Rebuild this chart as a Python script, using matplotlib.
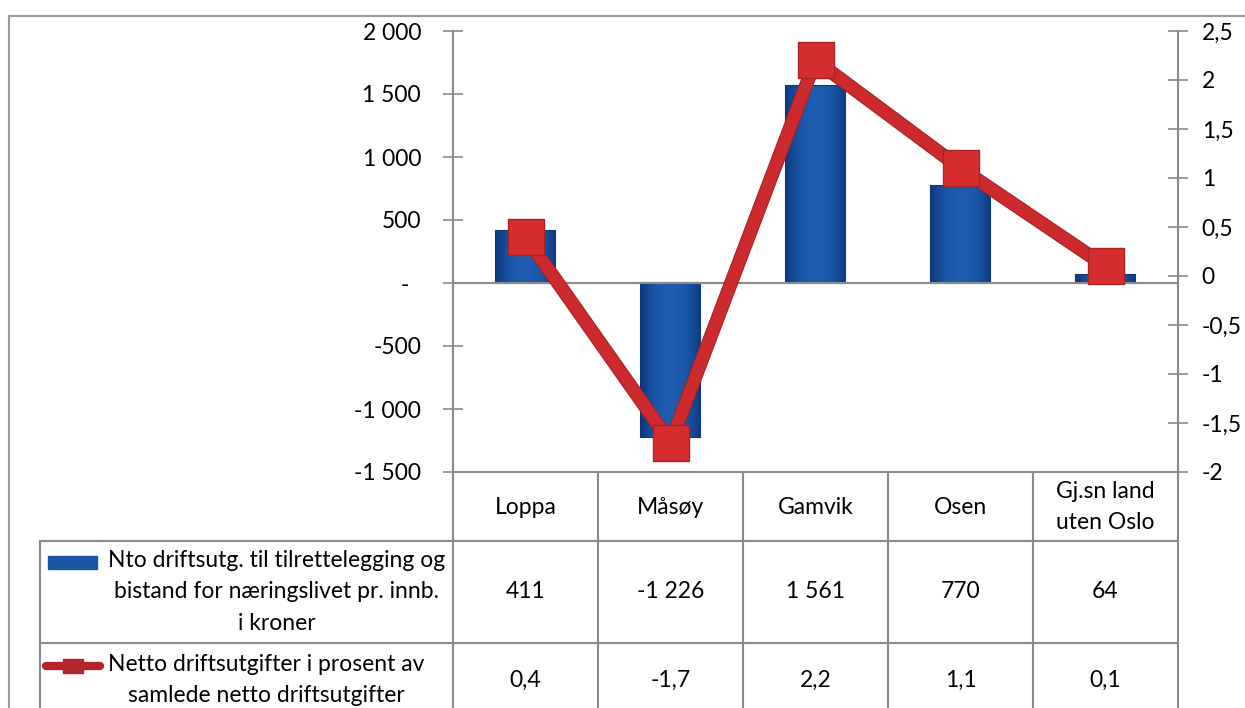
import numpy as np
import matplotlib
matplotlib.use("Agg")
import matplotlib.pyplot as plt
import matplotlib.transforms as mtrans
from matplotlib import patheffects as pe

plt.rcParams['font.family'] = ['Lato', 'DejaVu Sans']

categories = ["Loppa", "Måsøy", "Gamvik", "Osen", "Gj.sn land\nuten Oslo"]
nto_kroner = [411, -1226, 1561, 770, 64]
netto_prosent = [0.4, -1.7, 2.2, 1.1, 0.1]
left_ticks = [-1500, -1000, -500, 0, 500, 1000, 1500, 2000]
right_ticks = [-2, -1.5, -1, -0.5, 0, 0.5, 1, 1.5, 2, 2.5]
series1_label = "Nto driftsutg. til tilrettelegging og\nbistand for næringslivet pr. innb.\ni kroner"
series2_label = "Netto driftsutgifter i prosent av\nsamlede netto driftsutgifter"

W, H = 1245, 708
fig = plt.figure(figsize=(W / 100, H / 100), dpi=100)
fig.patch.set_facecolor("white")

def fx(px):
    return px / W

def fy(py):
    return 1 - py / H

ax_l, ax_r, ax_t, ax_b = 453, 1178, 31, 472
ax = fig.add_axes([fx(ax_l), fy(ax_b), fx(ax_r - ax_l), (ax_b - ax_t) / H])
ax2 = ax.twinx()

FS = 16.5
GRID = "#8a8a8a"
x = np.arange(len(categories))

# bars with gradient
bars = ax.bar(x, nto_kroner, width=0.41, color="#1b55a8", edgecolor="#0c3470",
              linewidth=1.5, zorder=2)
cmap = matplotlib.colors.LinearSegmentedColormap.from_list(
    "bevel", ["#0e3b82", "#1b56a9", "#205db0", "#1b56a9", "#0e3b82"])
grad = np.linspace(0, 1, 64).reshape(1, -1)
for b in bars:
    x0, y0 = b.get_x(), b.get_y()
    w, h = b.get_width(), b.get_height()
    im = ax.imshow(grad, extent=[x0, x0 + w, min(y0, y0 + h), max(y0, y0 + h)],
                   aspect="auto", cmap=cmap, zorder=2.5, interpolation="bicubic")
    im.set_clip_path(b)

ax.set_xlim(-0.5, len(categories) - 0.5)
ax.set_ylim(-1500, 2000)
ax.axhline(0, color=GRID, lw=1.5, zorder=3)

def kr_fmt(v):
    if v == 0:
        return "-"
    s = f"{abs(int(v)):,}".replace(",", " ")
    return ("-" if v < 0 else "") + s

ax.set_yticks(left_ticks)
ax.set_yticklabels([kr_fmt(v) if v != 0 else "-\u2002" for v in left_ticks], fontsize=FS)
ax.set_xticks([])
ax.tick_params(axis="y", direction="inout", length=15, width=1.2, color=GRID, pad=15.5)
for s in ["top", "right"]:
    ax.spines[s].set_visible(False)
ax.spines["left"].set_color(GRID)
ax.spines["left"].set_linewidth(1.5)
ax.spines["bottom"].set_color(GRID)
ax.spines["bottom"].set_linewidth(1.5)

# line series
ax2.plot(x, netto_prosent, color="#cc2a2c", lw=8.5, solid_capstyle="butt", zorder=5,
         path_effects=[pe.Stroke(linewidth=10, foreground="#a82222"), pe.Normal()])
ax2.plot(x, netto_prosent, linestyle="none", marker="s", markersize=26,
         markerfacecolor="#d62e2e", markeredgecolor="#a82424", markeredgewidth=1.0,
         zorder=6)
ax2.set_ylim(-2, 2.5)
ax2.set_yticks(right_ticks)
ax2.set_yticklabels([("%g" % v).replace(".", ",") for v in right_ticks], fontsize=FS)
ax2.tick_params(axis="y", direction="inout", length=15, width=1.2, color=GRID, pad=9.5)
for s in ["top", "left", "bottom"]:
    ax2.spines[s].set_visible(False)
ax2.spines["right"].set_color(GRID)
ax2.spines["right"].set_linewidth(1.5)

# overlay for table and frame (pixel coords)
ov = fig.add_axes([0, 0, 1, 1], zorder=-1)
ov.set_xlim(0, W)
ov.set_ylim(H, 0)
ov.axis("off")

# outer chart frame
ov.plot([9, 9], [16, H], color="#9a9a9a", lw=1.5)
ov.plot([9, W], [16, 16], color="#9a9a9a", lw=1.5)

# table grid
trans_cat = mtrans.blended_transform_factory(ax.transData, ov.transData)
row_top, row1, row2 = ax_b, 541, 643
for i in range(len(categories) + 1):
    ov.plot([i - 0.5, i - 0.5], [row_top, H], color=GRID, lw=1.5, transform=trans_cat)
ov.plot([40, 40], [row1, H], color=GRID, lw=1.5)
ov.plot([40, ax_r], [row1, row1], color=GRID, lw=1.5)
ov.plot([40, ax_r], [row2, row2], color=GRID, lw=1.5)

# table text
for i, c in enumerate(categories):
    ov.text(i, 507, c, ha="center", va="center", fontsize=FS, transform=trans_cat,
            linespacing=1.55)
    ov.text(i, 592, kr_fmt(nto_kroner[i]), ha="center", va="center", fontsize=FS,
            transform=trans_cat)
    ov.text(i, 680, ("%g" % netto_prosent[i]).replace(".", ","), ha="center",
            va="center", fontsize=FS, transform=trans_cat)

ov.text(277, 592, series1_label, ha="center", va="center", multialignment="center",
        fontsize=FS, linespacing=1.6)
ov.text(266, 680, series2_label, ha="center", va="center", multialignment="center",
        fontsize=FS, linespacing=1.6)

# legend keys
ov.add_patch(matplotlib.patches.Rectangle((48, 556), 49, 13, color="#1a56a6"))
ov.plot([46, 100], [666, 666], color="#b2262a", lw=6, solid_capstyle="round")
ov.add_patch(matplotlib.patches.Rectangle((63, 659), 20, 14, color="#b2262a"))

fig.savefig("out.png", dpi=100, facecolor="white")
